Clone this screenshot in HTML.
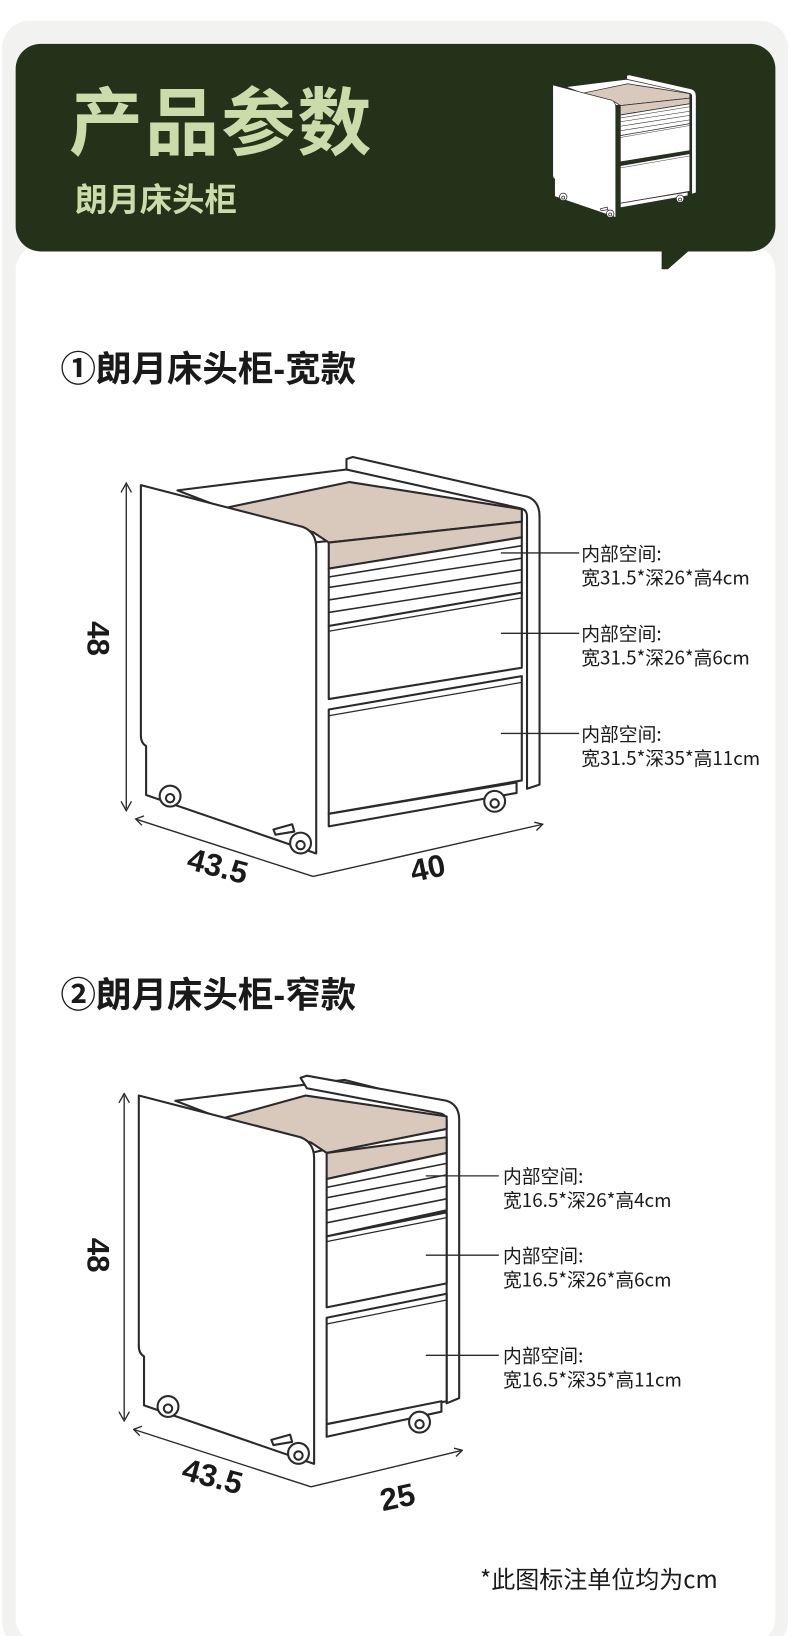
<!DOCTYPE html>
<html><head><meta charset="utf-8"><style>
html,body{margin:0;padding:0;background:#fff;}
body{width:790px;height:1636px;overflow:hidden;font-family:"Liberation Sans","Noto Sans CJK SC",sans-serif;}
svg{display:block}
</style></head><body>
<svg width="790" height="1636" viewBox="0 0 757 1568" preserveAspectRatio="none" xmlns="http://www.w3.org/2000/svg" font-family="Liberation Sans, Noto Sans CJK SC, sans-serif">
<defs>
<g id="body1" stroke="#2a2a2a" stroke-width="2" fill="#fff" stroke-linejoin="round">
<path d="M170,470 L250,460 L332,450 L500,485 L500,500 L300,520 Z"/>
<path d="M332,440 L338,438 L505,476 Q517,480 517,495 L517,752 L505,756 L505,495 Q505,488 498,487 L332,450 Z"/>
<path d="M215,487 L335,462 L500,488 L500,500 L315,520 L300,510 Z" fill="#d9c9bc"/>
<path d="M135,465 L290,505 Q303,510 303,525 L303,818 L140,762 L140,715 Q135,712 135,705 Z"/>
<path d="M315,520 L500,500 L500,515 L315,545 Z" fill="#d9c9bc"/>
<path d="M315,545 L500,515 L500,570 L315,600 Z"/>
<path d="M315,553 L500,523 M315,563 L500,535 M315,575 L500,546 M315,587 L500,558" fill="none" stroke-width="1.5"/>
<path d="M315,600 L500,568 L500,640 L315,670 Z"/>
<path d="M315,605 L500,573" fill="none" stroke-width="1.2"/>
<path d="M315,680 L500,648 L500,748 L315,780 Z"/>
<path d="M315,686 L500,654" fill="none" stroke-width="1.2"/>
<path d="M315,780 L495,750 L495,760 L315,792 Z"/>
<circle cx="163" cy="763" r="10"/><circle cx="163" cy="765" r="4"/>
<circle cx="288" cy="808" r="10"/><circle cx="288" cy="810" r="4"/>
<circle cx="474" cy="768" r="10"/><circle cx="474" cy="770" r="4"/>
<path d="M262,795 L280,790 L282,797 L264,800 Z"/>
</g>
</defs>
<rect x="0" y="0" width="757" height="1568" fill="#fff"/>
<rect x="2" y="20" width="753" height="1560" rx="26" fill="#f2f2f1"/>
<rect x="15" y="235" width="728" height="1340" rx="24" fill="#fff"/>
<rect x="15" y="42" width="728" height="199" rx="24" fill="#25321a"/>
<polygon points="634,230 672,230 640,258 634,258" fill="#25321a"/>
<text x="66" y="143" font-size="71" font-weight="bold" fill="#c9dca9" letter-spacing="2">产品参数</text>
<text x="72" y="202" font-size="31" font-weight="bold" fill="#c9dca9">朗月床头柜</text>
<g transform="translate(481,-86) scale(0.36)"><use href="#body1"/></g>

<!-- section 1 -->
<text x="58" y="365" font-size="34" font-weight="bold" fill="#1a1a1a">①朗月床头柜-宽款</text>
<use href="#body1"/>
<g stroke="#2a2a2a" fill="none" stroke-width="1.3">
<line x1="121" y1="465" x2="121" y2="775"/>
<path d="M116,472 L121,463 L126,472"/>
<path d="M116,768 L121,777 L126,768"/>
<line x1="130" y1="785" x2="300" y2="840"/>
<path d="M138,782 L130,785 L136,791"/>
<line x1="300" y1="840" x2="520" y2="790"/>
<path d="M512,788 L520,790 L514,796"/>
<line x1="480" y1="530" x2="555" y2="530"/>
<line x1="480" y1="607" x2="555" y2="607"/>
<line x1="480" y1="703" x2="555" y2="703"/>
</g>
<text transform="translate(84,612) rotate(90)" font-size="30" font-weight="bold" fill="#1a1a1a" text-anchor="middle">48</text>
<text transform="translate(206,840) rotate(15)" font-size="30" font-weight="bold" fill="#1a1a1a" text-anchor="middle">43.5</text>
<text transform="translate(412,842) rotate(-12)" font-size="30" font-weight="bold" fill="#1a1a1a" text-anchor="middle">40</text>
<g font-size="18" fill="#1a1a1a" font-family="Noto Sans CJK SC, sans-serif">
<text x="557" y="537">内部空间:</text><text x="557" y="560">宽31.5*深26*高4cm</text>
<text x="557" y="614">内部空间:</text><text x="557" y="637">宽31.5*深26*高6cm</text>
<text x="557" y="710">内部空间:</text><text x="557" y="733">宽31.5*深35*高11cm</text>
</g>

<!-- section 2 -->
<text x="58" y="965" font-size="34" font-weight="bold" fill="#1a1a1a">②朗月床头柜-窄款</text>
<g transform="translate(-2,585)" stroke="#2a2a2a" stroke-width="2" fill="#fff" stroke-linejoin="round">
<line x1="121" y1="465" x2="121" y2="775" stroke-width="1.3"/>
<path d="M116,472 L121,463 L126,472" fill="none" stroke-width="1.3"/>
<path d="M116,768 L121,777 L126,768" fill="none" stroke-width="1.3"/>
<path d="M170,470 L250,460 L332,450 L430,475 L430,490 L300,520 Z"/>
<path d="M290,448 L296,446 L430,470 Q442,474 442,488 L442,755 L430,760 L430,490 Q430,483 423,482 L296,458 Z"/>
<path d="M215,487 L295,465 L430,485 L430,497 L315,520 L300,510 Z" fill="#d9c9bc"/>
<path d="M135,465 L290,505 Q303,510 303,525 L303,818 L140,762 L140,715 Q135,712 135,705 Z"/>
<path d="M315,520 L430,505 L430,520 L315,545 Z" fill="#d9c9bc"/>
<path d="M315,545 L430,520 L430,575 L315,600 Z"/>
<path d="M315,553 L430,530 M315,563 L430,541 M315,575 L430,552 M315,587 L430,564" fill="none" stroke-width="1.5"/>
<path d="M315,600 L430,577 L430,645 L315,668 Z"/>
<path d="M315,605 L430,582" fill="none" stroke-width="1.2"/>
<path d="M315,678 L430,655 L430,758 L315,780 Z"/>
<path d="M315,684 L430,661" fill="none" stroke-width="1.2"/>
<path d="M315,780 L425,758 L425,768 L315,792 Z"/>
<circle cx="163" cy="763" r="10"/><circle cx="163" cy="765" r="4"/>
<circle cx="288" cy="808" r="10"/><circle cx="288" cy="810" r="4"/>
<circle cx="404" cy="778" r="10"/><circle cx="404" cy="780" r="4"/>
<path d="M262,795 L280,790 L282,797 L264,800 Z"/>
<line x1="130" y1="785" x2="300" y2="840" stroke-width="1.3"/>
<path d="M138,782 L130,785 L136,791" fill="none" stroke-width="1.3"/>
<line x1="300" y1="840" x2="445" y2="805" stroke-width="1.3"/>
<path d="M437,803 L445,805 L439,811" fill="none" stroke-width="1.3"/>
<line x1="410" y1="542" x2="480" y2="542" stroke-width="1.3"/>
<line x1="410" y1="618" x2="480" y2="618" stroke-width="1.3"/>
<line x1="410" y1="714" x2="480" y2="714" stroke-width="1.3"/>
</g>
<text transform="translate(84,1203) rotate(90)" font-size="30" font-weight="bold" fill="#1a1a1a" text-anchor="middle">48</text>
<text transform="translate(201,1425) rotate(15)" font-size="30" font-weight="bold" fill="#1a1a1a" text-anchor="middle">43.5</text>
<text transform="translate(383,1445) rotate(-12)" font-size="30" font-weight="bold" fill="#1a1a1a" text-anchor="middle">25</text>
<g font-size="18" fill="#1a1a1a" font-family="Noto Sans CJK SC, sans-serif">
<text x="482" y="1134">内部空间:</text><text x="482" y="1157">宽16.5*深26*高4cm</text>
<text x="482" y="1210">内部空间:</text><text x="482" y="1233">宽16.5*深26*高6cm</text>
<text x="482" y="1306">内部空间:</text><text x="482" y="1329">宽16.5*深35*高11cm</text>
</g>
<text x="460" y="1522" font-size="23" fill="#1a1a1a" font-family="Noto Sans CJK SC, sans-serif">*此图标注单位均为cm</text>
</svg>
</body></html>
